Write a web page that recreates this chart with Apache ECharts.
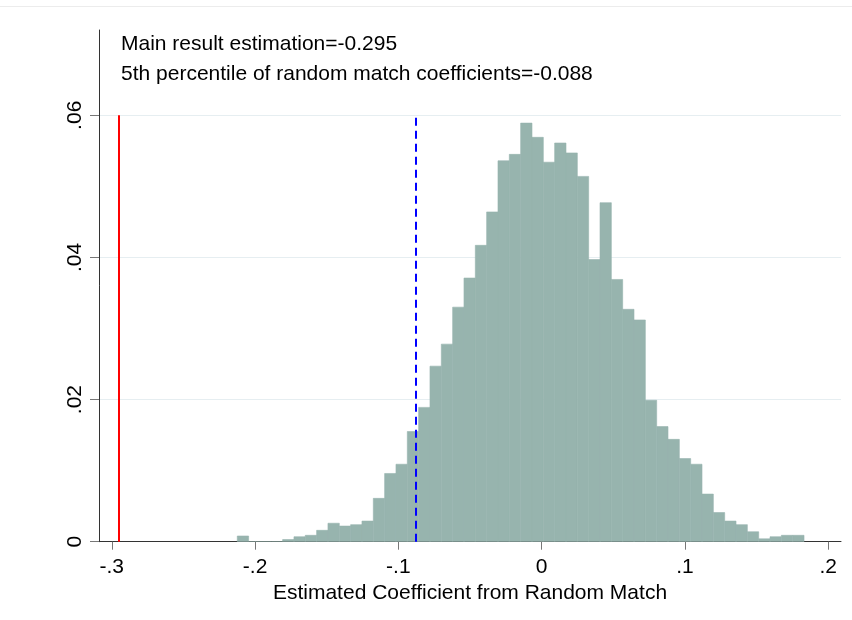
<!DOCTYPE html>
<html>
<head>
<meta charset="utf-8">
<script src="https://cdn.jsdelivr.net/npm/echarts@6/dist/echarts.min.js"></script>
<style>
html,body{margin:0;padding:0;background:#fff;}
#chart{width:852px;height:620px;}
</style>
</head>
<body>
<div id="chart"></div>
<script>
// ---- data ----
const binStart = -0.2124;
const binWidth = 0.00791;
const binFractions = [0.0008, 0, 0, 0, 0.0003, 0.0007, 0.0009, 0.0016, 0.0026, 0.0022,
  0.0024, 0.0029, 0.0061, 0.0096, 0.0109, 0.0155, 0.0189, 0.0247, 0.0278, 0.0330,
  0.0371, 0.0417, 0.0464, 0.0536, 0.0545, 0.0589, 0.0569, 0.0534, 0.0561, 0.0547,
  0.0514, 0.0397, 0.0477, 0.0369, 0.0327, 0.0312, 0.0199, 0.0162, 0.0144, 0.0117,
  0.0109, 0.0067, 0.0041, 0.0029, 0.0024, 0.0014, 0.0004, 0.0007, 0.0009, 0.0009];
const mainEstimate = -0.295;
const percentile5 = -0.088;
const refLineTop = 0.06;
const xTickValues = [-0.3, -0.2, -0.1, 0, 0.1, 0.2];
const xTickLabels = ['-.3', '-.2', '-.1', '0', '.1', '.2'];
const yTickValues = [0, 0.02, 0.04, 0.06];
const yTickLabels = ['0', '.02', '.04', '.06'];
const noteLines = ['Main result estimation=-0.295', '5th percentile of random match coefficients=-0.088'];
const xTitle = 'Estimated Coefficient from Random Match';

// ---- build ----
const histData = binFractions.map((h, i) => [binStart + i * binWidth, binStart + (i + 1) * binWidth, h]);
const FONT = '"Liberation Sans", Arial, Helvetica, sans-serif';
const barColor = '#97b4ae';
const gridColor = '#e6eef1';

const chart = echarts.init(document.getElementById('chart'), null, {renderer: 'canvas'});
chart.setOption({
  animation: false,
  backgroundColor: '#fff',
  grid: {left: 99, right: 11, top: 30, bottom: 78.3, containLabel: false},
  xAxis: {
    type: 'value', min: -0.3089, max: 0.2089,
    name: xTitle, nameLocation: 'middle', nameGap: 40,
    nameTextStyle: {fontFamily: FONT, fontSize: 21, color: '#000'},
    axisLine: {show: true, onZero: false, lineStyle: {color: '#333', width: 1}},
    axisTick: {show: true, length: 8, customValues: xTickValues, lineStyle: {color: '#777'}},
    axisLabel: {customValues: xTickValues, margin: 15, fontFamily: FONT, fontSize: 21, color: '#000',
      formatter: v => { const i = xTickValues.findIndex(t => Math.abs(t - v) < 1e-9); return i >= 0 ? xTickLabels[i] : ''; }},
    splitLine: {show: false}
  },
  yAxis: {
    type: 'value', min: 0, max: 0.072,
    axisLine: {show: true, onZero: false, lineStyle: {color: '#333', width: 1}},
    axisTick: {show: true, length: 9, customValues: yTickValues, lineStyle: {color: '#777'}},
    axisLabel: {customValues: yTickValues, rotate: 90, margin: 13, fontFamily: FONT, fontSize: 21, color: '#000',
      formatter: v => { const i = yTickValues.findIndex(t => Math.abs(t - v) < 1e-9); return i >= 0 ? yTickLabels[i] : ''; }},
    splitLine: {show: true, lineStyle: {color: gridColor, width: 1}}
  },
  series: [{
    type: 'custom',
    data: histData,
    encode: {x: [0, 1], y: 2},
    clip: true,
    renderItem: function (params, api) {
      const p0 = api.coord([api.value(0), 0]);
      const p1 = api.coord([api.value(1), api.value(2)]);
      return {type: 'rect', shape: {x: p0[0], y: p1[1], width: p1[0] - p0[0], height: p0[1] - p1[1]},
        style: {fill: barColor, stroke: barColor, lineWidth: 0.6}};
    },
    markLine: {
      silent: true, symbol: ['none', 'none'], label: {show: false},
      data: [
        [{coord: [mainEstimate, 0], lineStyle: {color: '#ff0000', width: 2, type: 'solid'}}, {coord: [mainEstimate, refLineTop]}],
        [{coord: [percentile5, 0], lineStyle: {color: '#0000ff', width: 2, type: [8, 5]}}, {coord: [percentile5, refLineTop]}]
      ]
    }
  }],
  graphic: [
    {type: 'line', shape: {x1: 0, y1: 6.5, x2: 852, y2: 6.5}, style: {stroke: '#ececec', lineWidth: 1}, silent: true},
    {type: 'text', left: 121, top: 34, style: {text: noteLines[0], font: '21px ' + FONT, fill: '#000'}},
    {type: 'text', left: 121, top: 64, style: {text: noteLines[1], font: '21px ' + FONT, fill: '#000'}}
  ]
});
</script>
</body>
</html>
